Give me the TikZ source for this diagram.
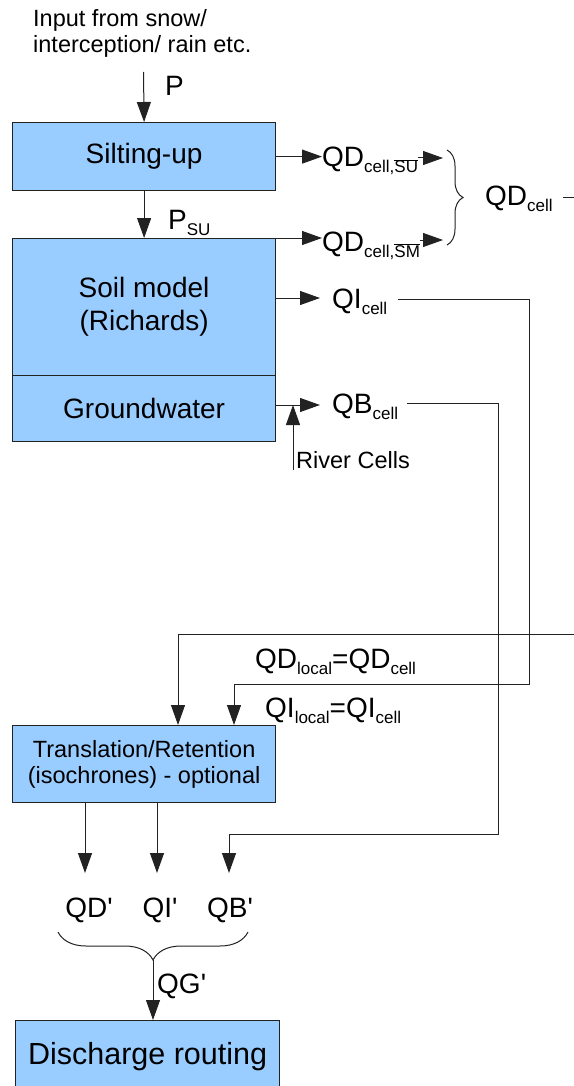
\documentclass[tikz,border=0pt]{standalone}
\usepackage{fontspec}
\setmainfont{Liberation Sans}
\usetikzlibrary{arrows.meta,decorations.pathreplacing}
\definecolor{boxblue}{HTML}{99CCFF}
\definecolor{edge}{HTML}{222222}
\newcommand{\sbs}[1]{\raisebox{-6pt}{\fontsize{17}{17}\selectfont #1}}
\newcommand{\ovl}[1]{$\overline{\hbox{#1}}$}
\newcommand{\q}{\textquotesingle}
\tikzset{
  box/.style={draw=edge, line width=1.2pt, fill=boxblue, inner sep=0pt, anchor=north west, font=\fontsize{28}{33}\selectfont, align=center},
  lbl/.style={inner sep=0pt, anchor=base west, font=\fontsize{28}{30}\selectfont},
  small/.style={inner sep=0pt, anchor=base west, font=\fontsize{23.5}{26}\selectfont},
  arr/.style={-{Triangle[length=20pt,width=14pt]}, line width=1pt, draw=edge},
  ln/.style={line width=1pt, draw=edge},
  brc/.style={line width=1pt, draw=edge, decorate}
}
\begin{document}
\begin{tikzpicture}[x=1pt,y=-1pt]
\useasboundingbox (0,0) rectangle (573,1086);
% input text
\node[small] (in1) at (33,27) {Input from snow/};
\node[small] (in2) at (33,53) {interception/ rain etc.};
% boxes
\node[box, minimum width=263pt, minimum height=68pt] (su) at (12,122) {Silting-up};
\node[box, minimum width=263pt, minimum height=137pt] (soil) at (12,238) {Soil model\\(Richards)};
\node[box, minimum width=263pt, minimum height=66pt] (gw) at (12,375) {Groundwater};
\node[box, minimum width=263pt, minimum height=77pt, font=\fontsize{23.5}{26}\selectfont] (tr) at (12,725) {Translation/Retention\\(isochrones) - optional};
\node[box, minimum width=264pt, minimum height=72pt, font=\fontsize{30.5}{33}\selectfont] (dr) at (15,1020) {Discharge routing};
% P input
\coordinate (pin) at (143.5,72);
\draw[arr] (pin) -- (su.north);
\node[lbl] (P) at (165,96) {P};
\draw[arr] (su.south) -- (soil.north);
\node[lbl] (Psu) at (168,229) {P\sbs{SU}};
% direct runoff
\node[lbl] (qdsu) at (322,167) {QD\sbs{cell,\ovl{SU}}};
\node[lbl] (qdsm) at (322,251) {QD\sbs{cell,\ovl{SM}}};
\draw[arr] (su.east) -- (qdsu.west |- su.east);
\draw[arr] (soil.north east) -- (qdsm.west |- soil.north east);
\coordinate (b1) at (443,158);
\coordinate (b2) at (443,240);
\draw[arr] (qdsu.east |- b1) -- (b1);
\draw[arr] (qdsm.east |- b2) -- (b2);
\draw[brc, decoration={brace, amplitude=16pt}] (447,150) -- (447,245);
\node[lbl] (qdc) at (485,205) {QD\sbs{cell}};
% interflow / baseflow labels
\node[lbl] (qi) at (332,308) {QI\sbs{cell}};
\node[lbl] (qb) at (332,413) {QB\sbs{cell}};
\coordinate (yqi) at (0,298);
\coordinate (yqb) at (0,405);
\draw[arr] (soil.east |- yqi) -- (320,298);
\draw[arr] (gw.east |- yqb) -- (320,405);
\node[small] (rc) at (296,468) {River Cells};
\coordinate (rcb) at (293,470);
\draw[arr] (rcb) -- (293,405);
% long connectors
\coordinate (qdcout) at (563,197);
\draw[arr] (qdcout) -- (600,197) |- (178,634) -- (178,725);
\coordinate (qiout) at (398,299);
\draw[arr] (qiout) -- (529,299) -- (529,684) -- (234,684) -- (234,725);
\coordinate (qbout) at (407,403);
\draw[arr] (qbout) -- (498,403) -- (498,834) -- (229,834) -- (229,873);
\node[lbl] (qdl) at (255,668) {QD\sbs{local}=QD\sbs{cell}};
\node[lbl] (qil) at (265,717) {QI\sbs{local}=QI\sbs{cell}};
% outputs of translation
\node[lbl, anchor=base] (qdp) at (89,917) {QD\q};
\node[lbl, anchor=base] (qip) at (160,917) {QI\q};
\node[lbl, anchor=base] (qbp) at (230,917) {QB\q};
\draw[arr] (tr.south -| 85,0) -- (85,873);
\draw[arr] (tr.south -| 157,0) -- (157,873);
\draw[brc, decoration={brace, amplitude=28pt}] (248,932) -- (58,932);
\coordinate (qgtop) at (153,960);
\draw[arr] (qgtop) -- (dr.north -| qgtop);
\node[lbl] (qg) at (157,993) {QG\q};
\end{tikzpicture}
\end{document}
